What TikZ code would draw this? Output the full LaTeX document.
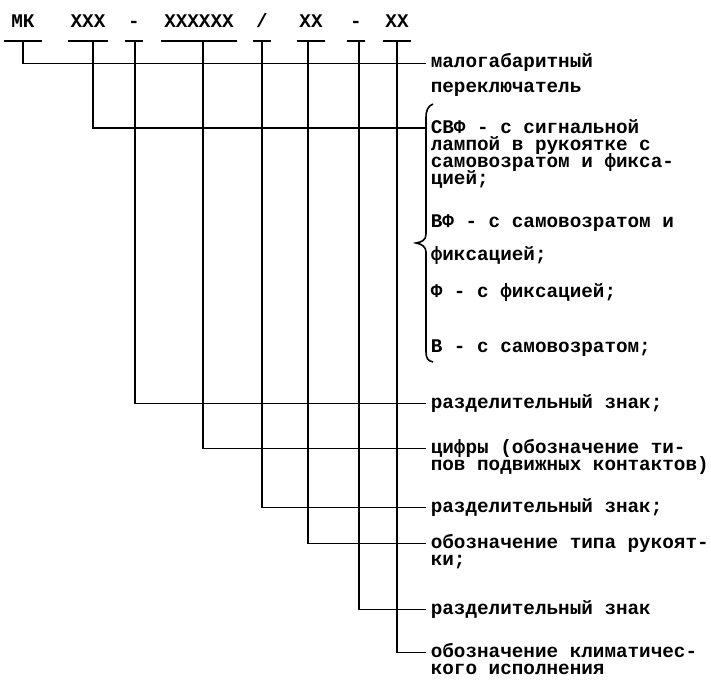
\documentclass[tikz,border=0pt]{standalone}
\usepackage{fontspec}
\newfontfamily\tw{Liberation Mono}
\begin{document}
\begin{tikzpicture}[x=1pt,y=-1pt,line width=1.6pt,
  code/.style={font=\tw\bfseries\fontsize{19.3}{17}\selectfont,inner xsep=2pt,inner ysep=0pt,text height=12pt,text depth=12pt,anchor=base},
  desc/.style={font=\tw\bfseries\fontsize{19.3}{17}\selectfont,inner xsep=4pt,inner ysep=0pt,text height=9pt,text depth=0pt,anchor=base west}]
\useasboundingbox (0,0) rectangle (711,682);
% code parts
\node[code,inner xsep=7pt] (t1) at (23,28) {МК};
\node[code] (t2) at (88,28) {XXX};
\node[code] (t3) at (134,28) {-};
\node[code] (t4) at (199,28) {XXXXXX};
\node[code] (t5) at (262,28) {/};
\node[code] (t6) at (311,28) {XX};
\node[code] (t7) at (356,28) {-};
\node[code] (t8) at (397,28) {XX};
\foreach \n in {t1,t2,t3,t4,t5,t6,t7,t8} \draw (\n.south west) -- (\n.south east);
% descriptions
\node[desc] (d1) at (426,68) {малогабаритный};
\node[desc] (d1b) at (426,93) {переключатель};
\node[desc] (s1) at (426,133) {СВФ - с сигнальной};
\node[desc] (s1b) at (426,150) {лампой в рукоятке с};
\node[desc] (s1c) at (426,167) {самовозратом и фикса-};
\node[desc] (s1d) at (426,184) {цией;};
\node[desc] (s2) at (426,227) {ВФ - с самовозратом и};
\node[desc] (s2b) at (426,260) {фиксацией;};
\node[desc] (s3) at (426,297) {Ф - с фиксацией;};
\node[desc] (s4) at (426,352) {В - с самовозратом;};
\node[desc] (d3) at (426,408) {разделительный знак;};
\node[desc] (d4) at (426,453) {цифры (обозначение ти-};
\node[desc] (d4b) at (426,470) {пов подвижных контактов)};
\node[desc] (d5) at (426,512) {разделительный знак;};
\node[desc] (d6) at (426,548) {обозначение типа рукоят-};
\node[desc] (d6b) at (426,565) {ки;};
\node[desc] (d7) at (426,614) {разделительный знак};
\node[desc] (d8) at (426,657) {обозначение климатичес-};
\node[desc] (d8b) at (426,674) {кого исполнения};
% brace
\coordinate (br) at (426,128);
\draw (433,104) .. controls (428,106) and (426,110) .. (426,118) -- (426,234)
  .. controls (426,240) and (422,242) .. (416,243)
  .. controls (422,244) and (426,247) .. (426,252) -- (426,352)
  .. controls (426,358) and (428,361) .. (433,362);
% connectors
\draw (t1.south) |- (d1.west);
\draw ([xshift=5pt]t2.south) |- (br);
\draw ([xshift=1pt]t3.south) |- (d3.west);
\draw ([xshift=4pt]t4.south) |- (d4.west);
\draw (t5.south) |- (d5.west);
\draw ([xshift=-3pt]t6.south) |- (d6.west);
\draw ([xshift=3pt]t7.south) |- (d7.west);
\draw (t8.south) |- (d8.west);
\end{tikzpicture}
\end{document}
